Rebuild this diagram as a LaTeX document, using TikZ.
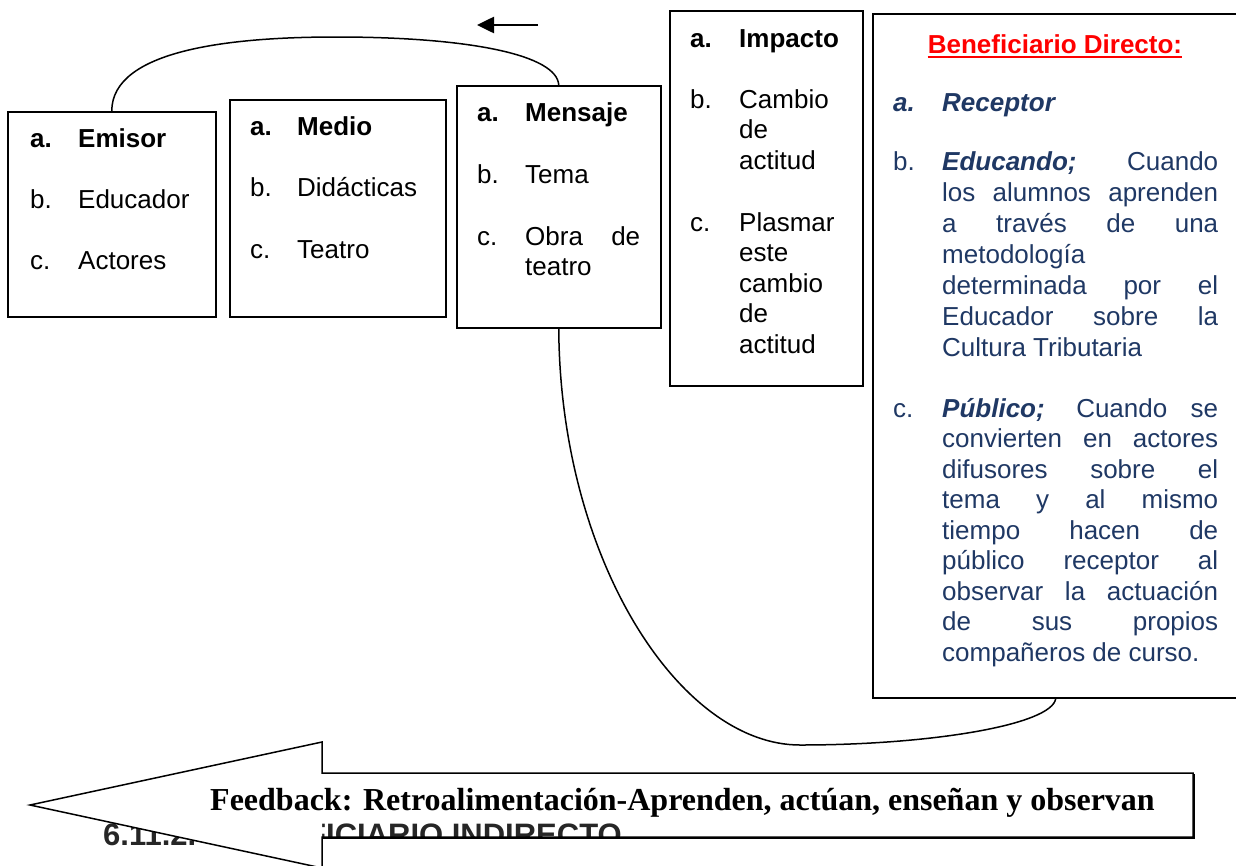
\documentclass[tikz,border=0pt]{standalone}
\usepackage{fontspec}
\setmainfont{Liberation Sans}
\newfontfamily\timesf{Liberation Serif}
\usetikzlibrary{arrows.meta}
\definecolor{dblue}{HTML}{1F3864}
\definecolor{wred}{HTML}{FF0000}
\begin{document}
\begin{tikzpicture}[x=1pt,y=-1pt,
  box/.style={draw, line width=1.5pt, inner sep=0pt, anchor=north west},
  txt/.style={anchor=base west, inner sep=0pt, font=\fontsize{26}{30.5}\selectfont},
  btxt/.style={txt, text=dblue},
  conn/.style={line width=1.5pt},
  bigarrow/.style={line width=1.5pt}]
\useasboundingbox (0,0) rectangle (1236,865);
\clip (0,0) rectangle (1236,865);

% boxes
\node[box, minimum width=208pt, minimum height=205pt] (emisor) at (7,111) {};
\node[box, minimum width=216pt, minimum height=217pt] (medio) at (229,99) {};
\node[box, minimum width=204pt, minimum height=242pt] (mensaje) at (456,85) {};
\node[box, minimum width=193pt, minimum height=375pt] (impacto) at (669,10) {};
\node[box, minimum width=366pt, minimum height=684pt] (benef) at (872,13) {};

% Emisor
\node[txt] (e1a) at (30,147) {\textbf{a.}};
\node[txt] (e1) at (78,147) {\textbf{Emisor}};
\node[txt] (e2a) at (30,208) {b.};
\node[txt] (e2) at (78,208) {Educador};
\node[txt] (e3a) at (30,269) {c.};
\node[txt] (e3) at (78,269) {Actores};

% Medio
\node[txt] (m1a) at (250,135) {\textbf{a.}};
\node[txt] (m1) at (297,135) {\textbf{Medio}};
\node[txt] (m2a) at (250,196) {b.};
\node[txt] (m2) at (297,196) {Didácticas};
\node[txt] (m3a) at (250,258) {c.};
\node[txt] (m3) at (297,258) {Teatro};

% Mensaje
\node[txt] (s1a) at (477,121) {\textbf{a.}};
\node[txt] (s1) at (525,121) {\textbf{Mensaje}};
\node[txt] (s2a) at (477,183) {b.};
\node[txt] (s2) at (525,183) {Tema};
\node[txt] (s3a) at (477,245) {c.};
\node[txt] (s3) at (525,245) {\makebox[115pt][s]{Obra de}};
\node[txt] (s3b) at (525,275) {teatro};

% Impacto
\node[txt] (i1a) at (690,47) {\textbf{a.}};
\node[txt] (i1) at (739,47) {\textbf{Impacto}};
\node[txt] (i2a) at (690,108) {b.};
\node[txt] (i2) at (739,108) {Cambio};
\node[txt] (i2b) at (739,138.5) {de};
\node[txt] (i2c) at (739,169) {actitud};
\node[txt] (i3a) at (690,231) {c.};
\node[txt] (i3) at (739,231) {Plasmar};
\node[txt] (i3b) at (739,261.5) {este};
\node[txt] (i3c) at (739,292) {cambio};
\node[txt] (i3d) at (739,322.5) {de};
\node[txt] (i3e) at (739,353) {actitud};

% Beneficiario directo
\node[anchor=base, inner sep=0pt, text=wred, font=\fontsize{26}{30.5}\selectfont\bfseries] (title) at (1055,53) {Beneficiario Directo:};
\draw[wred, line width=2.5pt] ([yshift=-4pt]title.base west) -- ([yshift=-4pt]title.base east);

\node[btxt] (r1a) at (893,111) {\textbf{\textit{a.}}};
\node[btxt] (r1) at (942,111) {\textbf{\textit{Receptor}}};

\node[btxt] (r2a) at (893,170) {b.};
\node[btxt] (r2l1) at (942,170) {\makebox[276pt][s]{\textbf{\textit{Educando;}} Cuando}};
\node[btxt] (r2l2) at (942,201) {\makebox[276pt][s]{los alumnos aprenden}};
\node[btxt] (r2l3) at (942,232) {\makebox[276pt][s]{a través de una}};
\node[btxt] (r2l4) at (942,263) {metodología};
\node[btxt] (r2l5) at (942,294) {\makebox[276pt][s]{determinada por el}};
\node[btxt] (r2l6) at (942,325) {\makebox[276pt][s]{Educador sobre la}};
\node[btxt] (r2l7) at (942,356) {Cultura Tributaria};

\node[btxt] (r3a) at (893,417) {c.};
\node[btxt] (r3l1) at (942,417) {\makebox[276pt][s]{\textbf{\textit{Público;}} Cuando se}};
\node[btxt] (r3l2) at (942,447.5) {\makebox[276pt][s]{convierten en actores}};
\node[btxt] (r3l3) at (942,478) {\makebox[276pt][s]{difusores sobre el}};
\node[btxt] (r3l4) at (942,508.5) {\makebox[276pt][s]{tema y al mismo}};
\node[btxt] (r3l5) at (942,539) {\makebox[276pt][s]{tiempo hacen de}};
\node[btxt] (r3l6) at (942,569.5) {\makebox[276pt][s]{público receptor al}};
\node[btxt] (r3l7) at (942,600) {\makebox[276pt][s]{observar la actuación}};
\node[btxt] (r3l8) at (942,630.5) {\makebox[276pt][s]{de sus propios}};
\node[btxt] (r3l9) at (942,661) {compañeros de curso.};

% connectors
\draw[conn] (emisor.north) .. controls (112,50) and (230,37) .. (336,37)
  .. controls (470,37) and (557,55) .. (mensaje.north);
\draw[conn] (mensaje.south) .. controls (560,560) and (680,745) .. (800,745)
  .. controls (930,745) and (1052,725) .. (benef.south);

% small arrow
\coordinate (sa1) at (538,25);
\coordinate (sa2) at (477,25);
\draw[line width=2.6pt, -{Triangle[length=17pt,width=16pt]}] (sa1) -- (sa2);

% heading partly hidden
\node[anchor=base west, inner sep=0pt, font=\fontsize{31}{36}\selectfont\bfseries, text=black!85] (h1) at (103,845) {6.11.2.};
\node[anchor=base east, inner sep=0pt, font=\fontsize{31}{36}\selectfont\bfseries, text=black!85] (h2) at (622,845) {BENEFICIARIO INDIRECTO};
\fill[white] (322,837) rectangle (1240,870);

% big feedback arrow
\coordinate (ft) at (30,805);
\coordinate (fh1) at (322,742);
\coordinate (fh2) at (322,868);
\coordinate (fs1) at (322,773);
\coordinate (fs2) at (322,837);
\coordinate (fe1) at (1193,773);
\coordinate (fe2) at (1193,837);
\fill[white] (fh1) -- (ft) -- (fh2) -- cycle;
\draw[black, line width=1.5pt] ([xshift=1pt,yshift=-1pt]fe1) -- ([xshift=1pt,yshift=-1pt]fe2) -- ([xshift=1pt,yshift=-1pt]fs2);
\draw[bigarrow] (fe1) -- (fs1) -- (fh1) -- (ft) -- (fh2) -- (fs2) -- (fe2) -- cycle;
\node[anchor=base west, inner sep=0pt, font=\timesf\bfseries\fontsize{32}{36}\selectfont] (fb) at (210,810) {Feedback: Retroalimentación-Aprenden, actúan, enseñan y observan};
\end{tikzpicture}
\end{document}
